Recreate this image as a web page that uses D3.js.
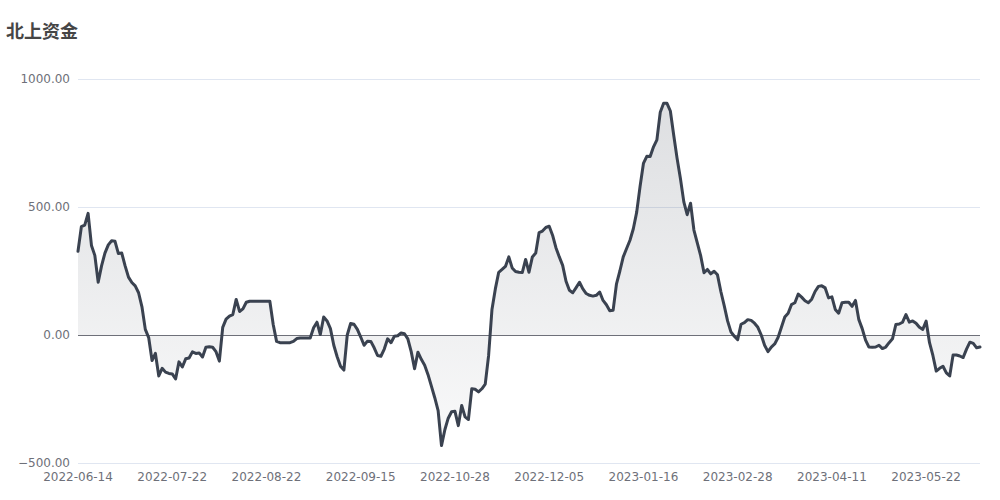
<!DOCTYPE html>
<html>
<head>
<meta charset="utf-8">
<script src="https://cdn.jsdelivr.net/npm/d3@7"></script>
<style>
  html, body { margin: 0; padding: 0; background: #ffffff; }
  svg { display: block; }
</style>
</head>
<body>
<svg id="chart" width="1000" height="500"></svg>
<script>
// ---- data ----
const title = "北上资金";
const tickLabels = ["2022-06-14","2022-07-22","2022-08-22","2022-09-15","2022-10-28","2022-12-05","2023-01-16","2023-02-28","2023-04-11","2023-05-22"];
const tickInterval = 28;
const yTicks = [-500, 0, 500, 1000];
const values = [
  327, 423, 429, 475, 350, 311, 206, 270, 320, 352,
  368, 366, 318, 320, 270, 226, 205, 192, 165, 110,
  22, -10, -100, -72, -160, -130, -145, -150, -152, -172,
  -105, -125, -93, -90, -66, -72, -70, -86, -48, -46,
  -48, -65, -102, 30, 62, 74, 80, 139, 92, 102,
  128, 132, 132, 132, 132, 132, 132, 132, 41, -25,
  -30, -30, -30, -30, -25, -14, -12, -12, -12, -12,
  28, 50, 2, 70, 55, 25, -40, -85, -122, -137,
  0, 45, 42, 22, -8, -40, -24, -25, -50, -80,
  -83, -55, -15, -30, -5, -3, 8, 5, -15, -65,
  -132, -67, -95, -118, -155, -200, -245, -295, -432, -370,
  -325, -300, -298, -354, -275, -320, -330, -210, -212, -222,
  -210, -192, -80, 100, 180, 245, 256, 268, 305, 262,
  248, 245, 244, 295, 245, 305, 320, 400, 406, 420,
  425, 390, 341, 305, 272, 210, 175, 165, 185, 206,
  180, 162, 155, 152, 155, 168, 135, 118, 95, 97,
  200, 250, 305, 338, 370, 415, 480, 580, 670, 698,
  697, 735, 762, 870, 905, 905, 875, 780, 690, 610,
  520, 470, 515, 410, 360, 310, 243, 256, 239, 249,
  235, 170, 115, 55, 12, -5, -18, 42, 48, 60,
  57, 46, 30, 0, -40, -65, -47, -35, -10, 30,
  70, 85, 119, 126, 160, 148, 134, 126, 140, 170,
  190, 192, 184, 145, 149, 100, 85, 126, 128, 128,
  112, 135, 60, 25, -20, -47, -48, -47, -40, -53,
  -47, -30, -15, 41, 43, 50, 80, 50, 55, 46,
  30, 22, 54, -30, -80, -141, -130, -122, -148, -160,
  -78, -78, -82, -88, -55, -28, -33, -50, -47
];

// ---- layout ----
const W = 1000, H = 500;
const margin = { left: 78, right: 20, top: 79, bottom: 37 };
const svg = d3.select("#chart");

const x = d3.scaleLinear().domain([0, values.length - 1]).range([margin.left, W - margin.right]);
const y = d3.scaleLinear().domain([-500, 1000]).range([H - margin.bottom, margin.top]);

const axisFont = "'DejaVu Sans', sans-serif";

// title
svg.append("text")
  .attr("x", 6).attr("y", 38)
  .attr("font-family", "'Noto Sans CJK SC', sans-serif")
  .attr("font-size", 18).attr("font-weight", "bold")
  .attr("fill", "#464646")
  .text(title);

// gridlines
svg.append("g").selectAll("line")
  .data(yTicks.filter(d => d !== 0))
  .join("line")
  .attr("x1", margin.left).attr("x2", W - margin.right)
  .attr("y1", d => Math.round(y(d)) + 0.5).attr("y2", d => Math.round(y(d)) + 0.5)
  .attr("stroke", "#e0e6f1").attr("stroke-width", 1);

// y labels
svg.append("g").selectAll("text")
  .data(yTicks)
  .join("text")
  .attr("x", 70).attr("y", d => y(d))
  .attr("dy", "0.35em")
  .attr("text-anchor", "end")
  .attr("font-family", axisFont).attr("font-size", 12)
  .attr("fill", "#6e7079")
  .text(d => d3.format(".2f")(d));

// x labels
svg.append("g").selectAll("text")
  .data(tickLabels)
  .join("text")
  .attr("x", (d, i) => x(i * tickInterval))
  .attr("y", H - margin.bottom + 18)
  .attr("text-anchor", "middle")
  .attr("font-family", axisFont).attr("font-size", 12)
  .attr("fill", "#6e7079")
  .text(d => d);

// gradient
const defs = svg.append("defs");
const grad = defs.append("linearGradient")
  .attr("id", "areaGrad")
  .attr("gradientUnits", "userSpaceOnUse")
  .attr("x1", 0).attr("x2", 0)
  .attr("y1", y(d3.max(values))).attr("y2", y(d3.min(values)));
grad.append("stop").attr("offset", "0%").attr("stop-color", "rgb(58,66,80)").attr("stop-opacity", 0.17);
grad.append("stop").attr("offset", "100%").attr("stop-color", "rgb(58,66,80)").attr("stop-opacity", 0.03);

// area
const area = d3.area()
  .x((d, i) => x(i))
  .y0(y(0))
  .y1(d => y(d));
svg.append("path")
  .datum(values)
  .attr("d", area)
  .attr("fill", "url(#areaGrad)");

// zero line
svg.append("line")
  .attr("x1", margin.left).attr("x2", W - margin.right)
  .attr("y1", Math.round(y(0)) + 0.5).attr("y2", Math.round(y(0)) + 0.5)
  .attr("stroke", "#6e7079").attr("stroke-width", 1);

// line
const line = d3.line()
  .x((d, i) => x(i))
  .y(d => y(d));
svg.append("path")
  .datum(values)
  .attr("d", line)
  .attr("fill", "none")
  .attr("stroke", "#3a4250")
  .attr("stroke-width", 3)
  .attr("stroke-linejoin", "round")
  .attr("stroke-linecap", "round");
</script>
</body>
</html>
